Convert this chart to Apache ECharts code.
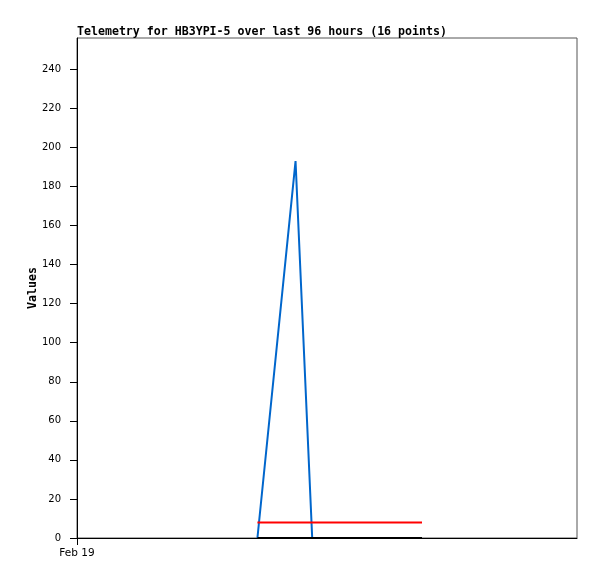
<!DOCTYPE html>
<html><head><meta charset="utf-8">
<script src="https://cdn.jsdelivr.net/npm/echarts@6/dist/echarts.min.js"></script>
<style>html,body{margin:0;padding:0;background:#fff}#c{width:597px;height:579px}</style>
</head><body><div id="c"></div>
<script>
// hours since Feb 19 00:00
const hours = [8.66, 10.49, 11.29, 11.70, 12.10, 12.51, 12.91, 13.32, 13.72, 14.13, 14.53, 14.94, 15.34, 15.75, 16.15, 16.56];
const blueVals = [0, 193, 0, 0, 0, 0, 0, 0, 0, 0, 0, 0, 0, 0, 0, 0];
const redVals = [8, 8, 8, 8, 8, 8, 8, 8, 8, 8, 8, 8, 8, 8, 8, 8];
const blackVals = [0, 0, 0, 0, 0, 0, 0, 0, 0, 0, 0, 0, 0, 0, 0, 0];
const yTicks = [0, 20, 40, 60, 80, 100, 120, 140, 160, 180, 200, 220, 240];
const xLabel = 'Feb 19';
const titleText = 'Telemetry for HB3YPI-5 over last 96 hours (16 points)';

const pair = (vals) => hours.map((h, i) => [h, vals[i]]);
const mono = 'DejaVu Sans Mono';
const chart = echarts.init(document.getElementById('c'), null, {renderer: 'canvas'});
chart.setOption({
  animation: false,
  backgroundColor: '#fff',
  title: {text: titleText, left: 77, top: 26, padding: 0, textStyle: {fontFamily: mono, fontSize: 11.6, fontWeight: 'bold', color: '#000'}},
  grid: {left: 77, right: 20, top: 38, bottom: 41, show: true, borderColor: '#555', borderWidth: 1, backgroundColor: 'transparent'},
  xAxis: {
    type: 'value', min: 0, max: 24, interval: 24,
    axisLine: {show: true, lineStyle: {color: '#000', width: 1}},
    axisTick: {show: true, length: 7, lineStyle: {color: '#000'}, customValues: [0]},
    axisLabel: {show: true, customValues: [0], formatter: () => xLabel, margin: 10, fontFamily: 'DejaVu Sans', fontSize: 10.5, color: '#000'},
    splitLine: {show: false}
  },
  yAxis: {
    type: 'value', min: 0, max: 256,
    name: 'Values', nameLocation: 'middle', nameGap: 38, nameRotate: 90, nameMoveOverlap: false,
    nameTextStyle: {fontFamily: mono, fontSize: 11.6, fontWeight: 'bold', color: '#000'},
    axisLine: {show: true, lineStyle: {color: '#000', width: 1}},
    axisTick: {show: true, length: 7, lineStyle: {color: '#000'}, customValues: yTicks},
    axisLabel: {customValues: yTicks, margin: 16, fontFamily: 'DejaVu Sans', fontSize: 10, color: '#000'},
    splitLine: {show: false}
  },
  series: [
    {type: 'line', data: pair(blueVals), showSymbol: false, lineStyle: {color: '#0066cc', width: 2}, itemStyle: {color: '#0066cc'}, z: 2},
    {type: 'line', data: pair(redVals), showSymbol: false, lineStyle: {color: '#ff0000', width: 2}, itemStyle: {color: '#ff0000'}, z: 3},
    {type: 'line', data: pair(blackVals), showSymbol: false, lineStyle: {color: '#000', width: 2}, itemStyle: {color: '#000'}, z: 4}
  ]
});
</script></body></html>
